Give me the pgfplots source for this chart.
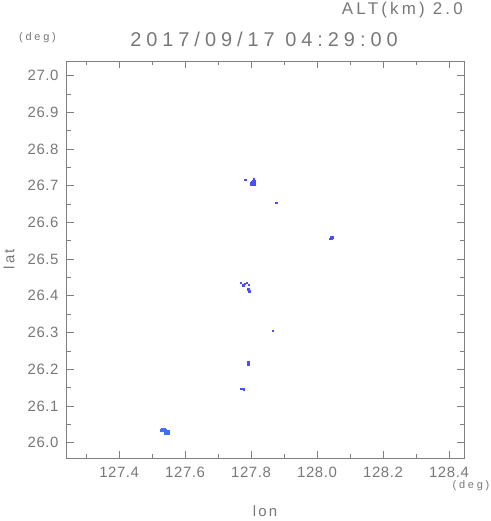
\documentclass[border=0pt]{standalone}
\usepackage{fontspec}
\setmainfont{Liberation Sans}
\usepackage{pgfplots}
\pgfplotsset{compat=1.18}
\newfontfamily\tickfont[LetterSpace=4]{Liberation Sans}
\newfontfamily\titlefont[LetterSpace=25]{Liberation Sans}
\newfontfamily\altfont[LetterSpace=19]{Liberation Sans}
\newfontfamily\degfont[LetterSpace=25]{Liberation Sans}
\newfontfamily\labfont[LetterSpace=15]{Liberation Sans}
\definecolor{bl}{RGB}{75,75,255}
\definecolor{blb}{RGB}{65,110,255}
\definecolor{txt}{RGB}{120,120,120}
\definecolor{axc}{RGB}{128,128,128}
\begin{document}
\begin{tikzpicture}
\path[use as bounding box] (0bp,0bp) rectangle (491bp,521bp);
\begin{axis}[
  at={(66.7bp,63bp)}, anchor=south west,
  width=397.3bp, height=396.7bp, scale only axis,
  xmin=127.241, xmax=128.4455, ymin=25.958, ymax=27.039,
  xtick={127.4,127.6,127.8,128.0,128.2,128.4},
  xticklabels={127.4,127.6,127.8,128.0,128.2,128.4},
  minor xtick={127.3,127.5,127.7,127.9,128.1,128.3},
  ytick={26.0,26.1,26.2,26.3,26.4,26.5,26.6,26.7,26.8,26.9,27.0},
  yticklabels={26.0,26.1,26.2,26.3,26.4,26.5,26.6,26.7,26.8,26.9,27.0},
  minor ytick={26.05,26.15,26.25,26.35,26.45,26.55,26.65,26.75,26.85,26.95},
  tick align=inside, xtick pos=both, ytick pos=both,
  major tick length=7bp, minor tick length=4bp,
  tick style={axc, line width=0.6bp},
  axis line style={axc, line width=0.8bp},
  ticklabel style={font=\tickfont\fontsize{15}{15}\selectfont, text=txt, inner sep=0pt},
  xticklabel style={anchor=center, yshift=-14bp},
  yticklabel style={anchor=east, xshift=-8bp},
  clip=false,
]
% cluster near 26.71
\addplot[fill=bl, draw=bl, line width=0.2bp, mark=none] coordinates {(127.7973,26.7019) (127.8125,26.7019) (127.8125,26.7156) (127.8094,26.7156) (127.8094,26.7210) (127.8064,26.7210) (127.8064,26.7156) (127.8034,26.7156) (127.8034,26.7128) (127.8003,26.7128) (127.8003,26.7101) (127.7973,26.7101)} -- cycle;
\addplot[fill=bl, draw=bl, line width=0.2bp, mark=none] coordinates {(127.7786,26.7156) (127.7846,26.7156) (127.7846,26.7183) (127.7786,26.7183)} -- cycle;
\addplot[fill=bl, draw=bl, line width=0.2bp, mark=none] coordinates {(127.8732,26.6529) (127.8793,26.6529) (127.8793,26.6556) (127.8732,26.6556)} -- cycle;
% 26.56
\addplot[fill=bl, draw=bl, line width=0.2bp, mark=none] coordinates {(128.0383,26.5576) (128.0474,26.5576) (128.0474,26.5630) (128.0383,26.5630)} -- cycle;
\addplot[fill=bl, draw=bl, line width=0.2bp, mark=none] coordinates {(128.0353,26.5548) (128.0444,26.5548) (128.0444,26.5576) (128.0353,26.5576)} -- cycle;
% 26.42 group
\addplot[fill=bl, draw=bl, line width=0.2bp, mark=none] coordinates {(127.7673,26.4352) (127.7703,26.4352) (127.7703,26.4379) (127.7673,26.4379)} -- cycle;
\addplot[fill=bl, draw=bl, line width=0.2bp, mark=none] coordinates {(127.7733,26.4261) (127.7794,26.4261) (127.7794,26.4316) (127.7733,26.4316)} -- cycle;
\addplot[fill=bl, draw=bl, line width=0.2bp, mark=none] coordinates {(127.7794,26.4325) (127.7824,26.4325) (127.7824,26.4352) (127.7794,26.4352)} -- cycle;
\addplot[fill=bl, draw=bl, line width=0.2bp, mark=none] coordinates {(127.7855,26.4352) (127.7885,26.4352) (127.7885,26.4379) (127.7855,26.4379)} -- cycle;
\addplot[fill=bl, draw=bl, line width=0.2bp, mark=none] coordinates {(127.7915,26.4297) (127.7946,26.4297) (127.7946,26.4325) (127.7915,26.4325)} -- cycle;
\addplot[fill=bl, draw=bl, line width=0.2bp, mark=none] coordinates {(127.7885,26.4161) (127.7946,26.4161) (127.7946,26.4215) (127.7885,26.4215)} -- cycle;
\addplot[fill=bl, draw=bl, line width=0.2bp, mark=none] coordinates {(127.7915,26.4088) (127.7976,26.4088) (127.7976,26.4161) (127.7915,26.4161)} -- cycle;
% 26.305
\addplot[fill=bl, draw=bl, line width=0.2bp, mark=none] coordinates {(127.8642,26.3041) (127.8673,26.3041) (127.8673,26.3068) (127.8642,26.3068)} -- cycle;
% 26.22
\addplot[fill=bl, draw=bl, line width=0.2bp, mark=none] coordinates {(127.7885,26.2115) (127.7946,26.2115) (127.7946,26.2232) (127.7885,26.2232)} -- cycle;
% 26.145
\addplot[fill=bl, draw=bl, line width=0.2bp, mark=none] coordinates {(127.7673,26.1461) (127.7794,26.1461) (127.7794,26.1488) (127.7673,26.1488)} -- cycle;
\addplot[fill=bl, draw=bl, line width=0.2bp, mark=none] coordinates {(127.7764,26.1434) (127.7794,26.1434) (127.7794,26.1461) (127.7764,26.1461)} -- cycle;
% 26.03
\addplot[fill=blb, draw=blb, line width=0.2bp, mark=none] coordinates {(127.5272,26.0371) (127.5394,26.0371) (127.5394,26.0398) (127.5272,26.0398)} -- cycle;
\addplot[fill=blb, draw=blb, line width=0.2bp, mark=none] coordinates {(127.5242,26.0316) (127.5424,26.0316) (127.5424,26.0371) (127.5242,26.0371)} -- cycle;
\addplot[fill=blb, draw=blb, line width=0.2bp, mark=none] coordinates {(127.5363,26.0243) (127.5515,26.0243) (127.5515,26.0343) (127.5363,26.0343)} -- cycle;
\end{axis}
\node[anchor=base east, inner sep=0pt, text=txt] at (463bp,506bp) {\altfont\fontsize{17}{17}\selectfont ALT(km) 2.0};
\node[anchor=base, inner sep=0pt, text=txt] at (264bp,474bp) {\titlefont\fontsize{20}{20}\selectfont 2017/09/17 04:29:00};
\node[anchor=center, inner sep=0pt, text=txt] at (37.5bp,483.5bp) {\degfont\fontsize{11}{11}\selectfont (deg)};
\node[anchor=center, inner sep=0pt, text=txt] at (471bp,35bp) {\degfont\fontsize{11}{11}\selectfont (deg)};
\node[anchor=center, inner sep=0pt, text=txt] at (265bp,9.5bp) {\labfont\fontsize{15}{15}\selectfont lon};
\node[anchor=center, inner sep=0pt, text=txt, rotate=90] at (9bp,262bp) {\labfont\fontsize{15}{15}\selectfont lat};
\end{tikzpicture}
\end{document}
